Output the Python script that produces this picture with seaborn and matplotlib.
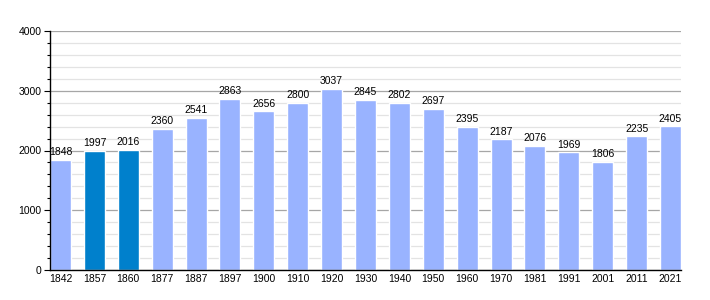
import matplotlib
matplotlib.use("Agg")
import matplotlib.pyplot as plt
import seaborn as sns
import pandas as pd
from matplotlib.ticker import MultipleLocator

years = ["1842", "1857", "1860", "1877", "1887", "1897", "1900", "1910", "1920", "1930",
         "1940", "1950", "1960", "1970", "1981", "1991", "2001", "2011", "2021"]
population = [1848, 1997, 2016, 2360, 2541, 2863, 2656, 2800, 3037, 2845,
              2802, 2697, 2395, 2187, 2076, 1969, 1806, 2235, 2405]
highlight = ["no", "yes", "yes", "no", "no", "no", "no", "no", "no", "no",
             "no", "no", "no", "no", "no", "no", "no", "no", "no"]

df = pd.DataFrame({"year": years, "pop": population, "hl": highlight})

sns.set_style("white")
plt.rcParams["font.family"] = ["Liberation Sans", "DejaVu Sans"]

fig = plt.figure(figsize=(7.1, 3.0), dpi=100)
ax = fig.add_axes([50 / 710, 30 / 300, 631 / 710, 239 / 300])

w = 0.62
palette = {"no": "#99b3ff", "yes": "#0080cc"}
sns.barplot(data=df, x="year", y="pop", hue="hl", palette=palette, dodge=False,
            width=w, legend=False, ax=ax, saturation=1, zorder=3)

ax.set_xlim(-w / 2, len(years) - 1 + w / 2)
ax.set_ylim(0, 4000)
ax.yaxis.set_major_locator(MultipleLocator(1000))
ax.yaxis.set_minor_locator(MultipleLocator(200))
ax.grid(which="major", axis="y", color="#a6a6a6", linewidth=0.9, zorder=1)
ax.grid(which="minor", axis="y", color="#e3e3e3", linewidth=0.9, zorder=0)
ax.set_axisbelow(True)

for s in ["top", "right"]:
    ax.spines[s].set_visible(False)
for s in ["left", "bottom"]:
    ax.spines[s].set_color("black")
    ax.spines[s].set_linewidth(1.0)
    ax.spines[s].set_zorder(5)

ax.tick_params(axis="y", which="major", direction="out", length=4, width=0.8,
               color="black", labelcolor="black", labelsize=7.5, pad=2, left=True)
ax.tick_params(axis="y", which="minor", direction="out", length=2, width=0.8,
               color="black", left=True)
ax.tick_params(axis="x", length=0, labelsize=7.5, pad=3, labelcolor="black")
ax.set_xlabel("")
ax.set_ylabel("")

for i, v in enumerate(population):
    ax.text(i, v + 45, str(v), ha="center", va="bottom", fontsize=7.5, color="black", zorder=6)

fig.savefig("out.png", dpi=100)
